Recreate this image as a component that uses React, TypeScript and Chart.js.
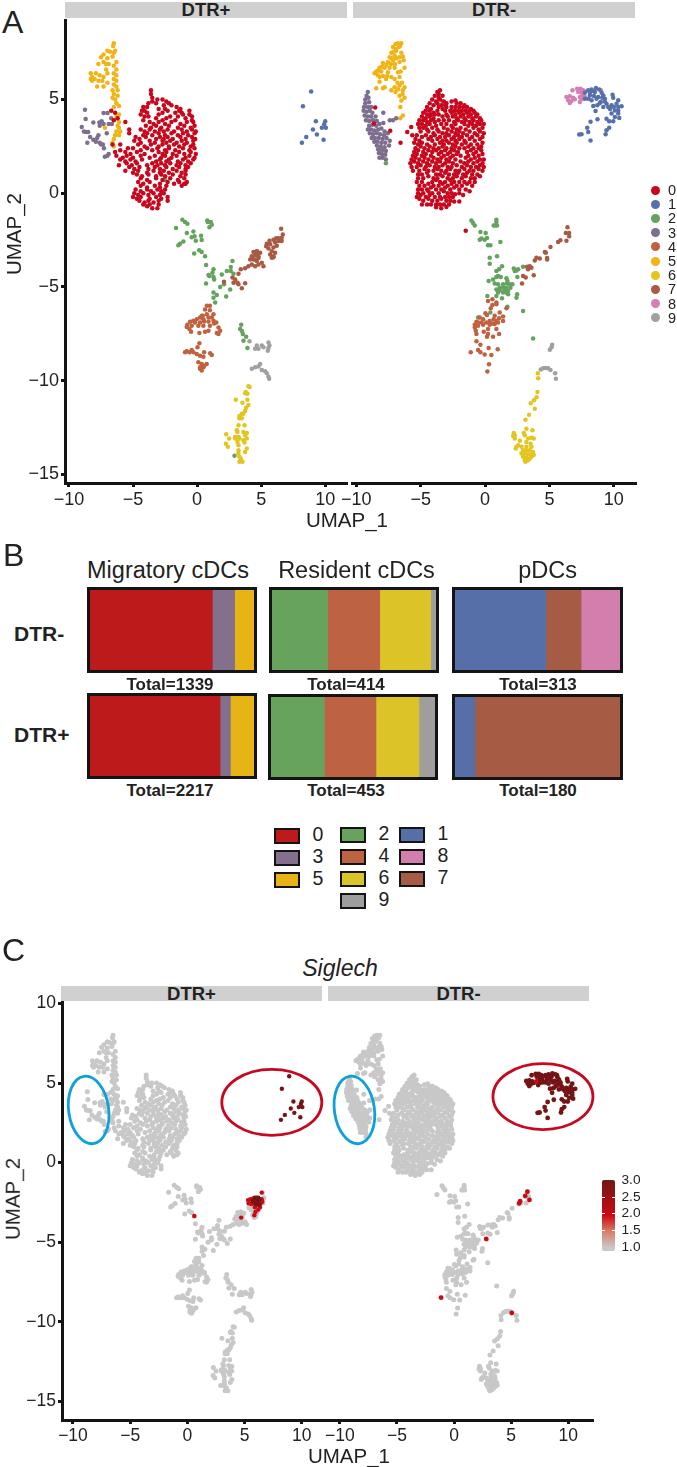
import React, { useEffect, useRef } from "react";
import { Chart, registerables } from "chart.js";
Chart.register(...registerables);

type P = [number, number];

// ---------- UMAP clusters, DTR+ ----------
const plus0: P[] = [[-3.6,5.5],[-3.6,5.3],[-3.5,5.1],[-3.5,4.9],[-3.1,5.0],[-2.7,5.0],[-2.4,4.9],[-3.8,4.8],[-3.2,4.8],[-2.6,4.7],[-2.2,4.8],[-2.0,4.7],[-4.2,4.6],[-3.9,4.6],[-3.0,4.5],[-2.5,4.5],[-1.6,4.6],[-1.3,4.5],[-4.3,4.4],[-4.1,4.4],[-3.9,4.3],[-2.7,4.3],[-2.3,4.4],[-1.7,4.3],[-1.4,4.4],[-1.2,4.3],[-0.6,4.4],[-4.4,4.2],[-4.1,4.1],[-3.8,4.1],[-3.0,4.2],[-2.1,4.1],[-1.5,4.1],[-1.1,4.2],[-0.6,4.2],[-0.4,4.1],[-4.2,3.9],[-3.2,4.0],[-2.7,3.9],[-2.4,4.0],[-1.7,3.9],[-0.9,4.0],[-0.4,3.9],[-0.3,3.8],[-5.6,3.8],[-3.7,3.8],[-3.4,3.7],[-3.0,3.8],[-2.5,3.7],[-2.0,3.8],[-1.3,3.7],[-0.8,3.8],[-0.2,3.6],[-4.0,3.6],[-3.6,3.5],[-3.2,3.6],[-2.8,3.5],[-2.2,3.6],[-1.5,3.5],[-1.0,3.6],[-0.5,3.5],[-5.3,3.4],[-4.4,3.4],[-4.1,3.3],[-3.7,3.4],[-3.3,3.3],[-2.9,3.4],[-2.6,3.3],[-2.3,3.4],[-1.8,3.3],[-1.2,3.4],[-0.8,3.3],[-0.4,3.4],[-0.1,3.3],[-5.3,3.2],[-4.2,3.1],[-3.9,3.2],[-3.5,3.1],[-3.0,3.2],[-2.5,3.1],[-2.0,3.2],[-1.5,3.1],[-1.1,3.2],[-0.7,3.1],[-0.2,3.2],[-4.8,3.0],[-4.5,2.9],[-4.0,3.0],[-3.2,2.9],[-2.9,3.0],[-2.6,2.9],[-2.3,3.0],[-1.9,2.9],[-1.3,3.0],[-0.9,2.9],[-0.4,3.0],[-0.15,2.9],[-4.9,2.8],[-4.4,2.7],[-3.7,2.8],[-3.3,2.7],[-2.7,2.8],[-2.4,2.7],[-2.1,2.8],[-1.6,2.7],[-1.2,2.8],[-0.8,2.7],[-0.3,2.8],[-4.6,2.6],[-4.1,2.5],[-3.6,2.6],[-3.0,2.5],[-2.7,2.6],[-2.2,2.5],[-1.8,2.6],[-1.4,2.5],[-1.0,2.6],[-0.5,2.5],[-0.3,2.6],[-5.4,2.4],[-5.0,2.4],[-4.4,2.3],[-3.9,2.4],[-3.5,2.3],[-3.1,2.4],[-2.5,2.3],[-2.2,2.4],[-1.7,2.3],[-1.1,2.4],[-0.6,2.3],[-0.2,2.4],[-6.4,2.2],[-6.0,2.3],[-5.6,2.2],[-5.2,2.1],[-4.7,2.2],[-4.1,2.1],[-3.0,2.2],[-2.7,2.1],[-2.4,2.2],[-1.9,2.1],[-1.4,2.2],[-1.0,2.1],[-0.5,2.2],[-0.1,2.1],[-6.3,2.0],[-5.8,1.9],[-5.5,2.0],[-5.0,1.9],[-4.4,2.0],[-3.7,1.9],[-3.3,2.0],[-2.8,1.9],[-2.5,2.0],[-2.0,1.9],[-1.6,2.0],[-0.9,1.9],[-0.6,2.0],[-0.2,1.9],[-6.0,1.8],[-5.6,1.7],[-5.2,1.8],[-4.8,1.7],[-4.3,1.8],[-3.2,1.7],[-2.9,1.8],[-2.4,1.7],[-2.2,1.8],[-1.5,1.7],[-1.1,1.8],[-0.7,1.7],[-0.3,1.8],[-6.1,1.5],[-5.5,1.6],[-5.1,1.5],[-4.7,1.6],[-3.9,1.5],[-3.5,1.6],[-3.1,1.5],[-2.8,1.6],[-2.5,1.5],[-2.1,1.6],[-1.6,1.5],[-1.3,1.6],[-0.9,1.5],[-0.5,1.6],[-5.3,1.4],[-4.9,1.3],[-4.5,1.4],[-3.8,1.3],[-3.3,1.4],[-2.9,1.3],[-2.4,1.4],[-1.9,1.3],[-1.4,1.4],[-0.9,1.3],[-0.7,1.4],[-5.6,1.2],[-5.0,1.1],[-4.6,1.2],[-3.9,1.1],[-3.4,1.2],[-2.9,1.1],[-2.6,1.2],[-2.2,1.1],[-1.6,1.2],[-1.2,1.1],[-0.9,1.2],[-4.7,1.0],[-4.3,0.9],[-3.8,1.0],[-3.2,0.9],[-2.8,1.0],[-2.5,0.9],[-1.9,1.0],[-1.3,0.9],[-0.9,1.0],[-4.4,0.8],[-3.9,0.7],[-3.2,0.8],[-2.7,0.7],[-2.1,0.8],[-1.5,0.7],[-1.0,0.8],[-4.6,0.6],[-4.2,0.5],[-3.7,0.6],[-2.9,0.5],[-2.3,0.6],[-1.8,0.5],[-1.4,0.6],[-1.0,0.5],[-0.8,0.6],[-4.4,0.4],[-3.9,0.3],[-3.3,0.4],[-2.9,0.3],[-2.4,0.4],[-1.2,0.4],[-0.9,0.5],[-4.8,0.2],[-4.4,0.1],[-3.9,0.2],[-3.6,0.1],[-3.1,0.2],[-2.8,0.1],[-2.5,0.2],[-4.9,0.0],[-4.6,-0.1],[-4.2,0.0],[-3.8,-0.1],[-3.4,0.0],[-2.9,-0.1],[-2.6,0.0],[-2.3,-0.2],[-5.0,-0.2],[-4.7,-0.3],[-4.4,-0.2],[-3.7,-0.3],[-3.2,-0.2],[-2.8,-0.3],[-4.5,-0.4],[-4.1,-0.5],[-3.8,-0.4],[-3.4,-0.5],[-3.0,-0.4],[-2.3,-0.4],[-4.2,-0.6],[-3.9,-0.7],[-3.7,-0.6],[-3.5,-0.8],[-3.0,-0.6],[-3.1,-0.8],[-6.0,2.6],[-6.6,2.6],[-6.7,4.4],[-6.4,4.3],[-6.2,4.0],[-6.5,3.9]];
const plus1: P[] = [[8.9,5.43],[8.26,4.64],[9.27,3.84],[9.04,3.4],[10.0,3.84],[9.92,3.68],[9.74,3.49],[10.05,3.49],[9.35,3.13],[8.52,3.0],[8.18,2.69],[9.87,2.85]];
const plus2: P[] = [[-1.15,-1.42],[-0.94,-1.54],[-0.76,-1.63],[-1.64,-1.86],[0.8,-1.45],[1.07,-1.54],[1.15,-1.68],[0.96,-1.82],[0.83,-1.54],[-0.8,-2.12],[-0.29,-2.04],[-0.2,-2.3],[-0.42,-2.35],[0.31,-2.27],[0.36,-2.5],[-0.1,-2.53],[-1.07,-2.57],[-1.46,-2.78],[-1.33,-2.7],[0.16,-3.04],[0.36,-3.13],[-0.23,-3.22],[0.62,-3.36],[0.7,-3.83],[1.28,-4.06],[1.2,-4.24],[0.96,-4.42],[1.28,-4.47],[0.89,-4.36],[1.33,-4.6],[0.7,-4.81],[1.93,-4.33],[2.32,-4.15],[2.63,-3.94],[2.76,-3.62],[2.63,-4.15],[2.84,-4.29],[2.1,-4.86],[1.8,-5.0],[2.58,-5.13],[1.28,-5.3],[1.54,-5.43],[1.28,-5.57],[1.41,-5.83],[2.27,-5.51],[0.36,-6.54],[-2.5,0.7],[3.44,-7.02],[3.36,-7.25],[3.5,-7.35],[3.57,-7.51],[3.83,-7.66],[3.62,-7.87],[3.93,-8.26],[2.92,-14.0]];
const plus3: P[] = [[-8.75,4.46],[-8.7,3.96],[-9.0,3.54],[-8.83,3.3],[-8.67,3.27],[-8.5,3.27],[-8.1,3.77],[-7.63,3.77],[-7.45,3.84],[-7.6,3.6],[-7.3,3.7],[-7.3,4.28],[-7.0,4.28],[-6.7,4.0],[-6.9,3.7],[-6.65,3.7],[-7.05,3.2],[-7.7,3.1],[-7.8,2.95],[-8.1,2.85],[-8.35,3.0],[-8.57,2.7],[-7.6,2.7],[-7.35,2.6],[-7.27,2.4],[-7.0,2.0],[-7.2,1.95],[-7.5,2.6],[-7.9,2.75],[-6.9,2.1]];
const plus4: P[] = [[0.76,-6.0],[1.0,-6.0],[0.62,-6.2],[1.0,-6.24],[1.28,-6.45],[0.44,-6.54],[0.76,-6.45],[0.23,-6.63],[0.49,-6.72],[0.89,-6.63],[1.15,-6.63],[-0.03,-6.72],[-0.29,-6.8],[-0.55,-6.86],[-0.76,-7.02],[-0.81,-7.13],[-0.6,-7.25],[-0.42,-7.07],[-0.16,-6.9],[0.23,-6.9],[0.55,-6.84],[0.89,-6.84],[1.28,-6.8],[1.33,-6.95],[1.5,-6.9],[1.0,-7.07],[0.49,-7.07],[0.1,-7.07],[0.89,-7.34],[0.62,-7.39],[0.18,-7.46],[1.67,-7.16],[1.8,-7.34],[1.54,-7.46],[1.67,-7.51],[-0.47,-7.39],[0.18,-8.0],[0.03,-8.22],[-0.42,-8.36],[-0.81,-8.43],[-0.94,-8.49],[-0.6,-8.49],[-0.29,-8.49],[-0.03,-8.58],[0.23,-8.67],[0.49,-8.72],[0.55,-8.49],[1.02,-8.54],[1.15,-8.63],[0.1,-9.02],[0.36,-9.11],[0.75,-9.11],[0.23,-9.28],[0.49,-9.28],[0.55,-9.2],[0.23,-9.37],[0.36,-9.46]];
const plus5: P[] = [[-6.5,8.0],[-6.55,7.85],[-6.4,7.6],[-6.8,7.55],[-7.0,7.6],[-7.3,7.4],[-6.5,7.5],[-6.6,7.3],[-7.0,7.2],[-7.5,7.25],[-7.3,7.0],[-7.7,6.9],[-7.1,6.9],[-6.9,6.9],[-6.3,7.0],[-7.1,6.6],[-7.0,6.4],[-6.5,6.8],[-6.3,6.6],[-6.5,6.4],[-6.3,6.3],[-7.3,6.2],[-8.3,6.4],[-8.2,6.2],[-7.9,6.4],[-7.6,6.3],[-8.0,6.1],[-7.7,6.0],[-7.4,6.0],[-8.3,6.1],[-8.2,6.0],[-7.0,5.9],[-6.5,6.1],[-6.3,6.0],[-6.5,5.8],[-6.3,5.7],[-6.2,5.5],[-7.8,5.7],[-7.3,5.7],[-6.6,5.5],[-6.5,5.3],[-6.2,5.2],[-6.6,5.1],[-6.4,5.0],[-6.3,4.8],[-6.5,4.6],[-6.1,4.65],[-6.3,4.1],[-6.1,4.2],[-6.2,3.6],[-6.1,3.5],[-6.3,3.3],[-6.0,3.3],[-6.4,3.1],[-6.1,3.1],[-6.5,2.9],[-6.6,2.7],[-6.5,2.5],[-7.2,3.5],[-6.1,3.8]];
const plus6: P[] = [[4.0,-10.3],[4.1,-10.34],[3.8,-10.6],[3.93,-10.7],[3.75,-10.67],[3.02,-11.02],[3.93,-11.02],[3.54,-11.18],[4.0,-11.3],[3.83,-11.45],[3.75,-11.62],[3.49,-11.76],[3.3,-11.89],[3.62,-11.76],[3.49,-12.0],[3.3,-12.0],[3.23,-12.38],[3.7,-12.38],[3.1,-12.65],[3.15,-12.74],[3.62,-12.74],[3.88,-12.79],[3.75,-12.91],[2.27,-12.86],[2.5,-13.09],[2.97,-13.0],[3.23,-13.0],[2.97,-13.09],[3.3,-13.09],[3.88,-13.09],[3.62,-13.18],[3.15,-13.27],[3.23,-13.44],[3.7,-13.3],[2.25,-13.36],[2.4,-13.53],[3.23,-13.71],[3.88,-13.62],[3.75,-13.8],[3.23,-13.89],[3.3,-14.06],[3.41,-14.15],[3.54,-14.33],[3.3,-14.33]];
const plus7: P[] = [[2.1,-4.72],[2.76,-4.5],[2.97,-4.6],[3.15,-4.77],[3.23,-4.86],[3.49,-5.07],[3.75,-4.8],[2.84,-4.77],[3.23,-4.3],[3.41,-4.06],[3.75,-4.0],[4.0,-3.89],[4.27,-3.8],[4.53,-3.89],[4.79,-3.8],[5.05,-3.71],[5.18,-3.89],[4.4,-3.53],[4.66,-3.62],[4.79,-3.36],[4.53,-3.3],[4.66,-3.09],[4.92,-3.18],[5.96,-3.36],[5.83,-3.44],[6.09,-3.18],[6.56,-1.89],[6.69,-2.2],[6.6,-2.37],[6.35,-2.4],[6.17,-2.4],[5.96,-2.48],[5.65,-2.53],[5.44,-2.7],[5.7,-2.72],[6.09,-2.63],[6.35,-2.55],[6.6,-2.55],[6.22,-2.8],[5.96,-2.9],[5.83,-3.09],[5.57,-2.95],[5.39,-2.83],[5.7,-3.27],[5.96,-3.41],[4.66,-3.1],[4.4,-3.13],[4.27,-3.36],[4.66,-3.27],[4.79,-3.45],[4.14,-3.53],[4.53,-3.53]];
const plus9: P[] = [[4.09,-7.9],[4.66,-8.13],[4.79,-8.3],[5.05,-8.13],[5.18,-8.22],[5.57,-7.96],[5.65,-8.13],[5.52,-8.4],[5.57,-8.26],[4.53,-8.3],[4.92,-9.11],[4.27,-9.37],[4.53,-9.28],[4.79,-9.25],[5.05,-9.43],[5.31,-9.5],[5.44,-9.6],[5.57,-9.78],[5.62,-9.9]];

// ---------- UMAP clusters, DTR- ----------
const minus0: P[] = [[-3.7,5.4],[-3.5,5.5],[-3.6,5.3],[-3.9,5.2],[-3.6,5.1],[-3.3,5.2],[-4.1,5.0],[-3.8,4.9],[-3.5,5.0],[-3.2,4.9],[-2.6,4.9],[-2.3,4.95],[-3.0,4.8],[-4.3,4.8],[-4.0,4.7],[-3.7,4.8],[-3.4,4.7],[-3.1,4.7],[-2.2,4.8],[-1.9,4.8],[-1.6,4.7],[-4.5,4.6],[-4.2,4.5],[-3.6,4.6],[-3.3,4.5],[-3.0,4.6],[-2.6,4.6],[-2.3,4.6],[-2.0,4.6],[-1.7,4.6],[-1.4,4.6],[-1.1,4.5],[-4.6,4.4],[-4.3,4.4],[-4.0,4.3],[-3.7,4.4],[-3.1,4.4],[-2.7,4.4],[-2.4,4.4],[-2.1,4.4],[-1.8,4.4],[-1.5,4.4],[-1.2,4.4],[-0.9,4.4],[-4.8,4.3],[-4.5,4.2],[-4.2,4.2],[-3.9,4.2],[-3.6,4.2],[-3.0,4.2],[-2.6,4.3],[-2.3,4.2],[-2.0,4.3],[-1.7,4.2],[-1.4,4.3],[-1.1,4.2],[-0.8,4.3],[-0.6,4.2],[-4.9,4.1],[-4.6,4.0],[-4.3,4.1],[-4.0,4.0],[-3.3,4.1],[-2.9,4.1],[-2.5,4.1],[-2.2,4.0],[-1.9,4.1],[-1.6,4.0],[-1.3,4.1],[-1.0,4.0],[-0.7,4.1],[-0.4,4.0],[-5.1,3.9],[-4.8,3.9],[-4.5,3.8],[-4.2,3.9],[-3.9,3.8],[-3.6,3.9],[-3.2,3.9],[-2.8,3.9],[-2.4,3.8],[-2.1,3.9],[-1.8,3.8],[-1.5,3.9],[-1.2,3.8],[-0.9,3.9],[-0.6,3.8],[-0.3,3.9],[-5.2,3.7],[-4.9,3.7],[-4.6,3.6],[-4.3,3.7],[-3.8,3.6],[-3.4,3.7],[-3.0,3.7],[-2.6,3.6],[-2.3,3.7],[-1.6,3.7],[-1.3,3.6],[-1.0,3.7],[-0.7,3.6],[-0.4,3.7],[-0.1,3.7],[-5.1,3.5],[-4.8,3.5],[-4.5,3.4],[-4.1,3.5],[-3.7,3.4],[-3.2,3.5],[-2.9,3.4],[-2.5,3.5],[-2.2,3.4],[-1.9,3.5],[-1.5,3.4],[-0.9,3.5],[-0.5,3.4],[-0.2,3.5],[-5.0,3.3],[-4.4,3.3],[-4.0,3.2],[-3.6,3.3],[-3.3,3.2],[-3.0,3.2],[-2.6,3.3],[-2.3,3.2],[-2.0,3.3],[-1.7,3.2],[-1.2,3.3],[-0.8,3.2],[-0.4,3.3],[-0.1,3.2],[-5.3,3.1],[-4.9,3.0],[-4.6,3.1],[-4.2,3.0],[-3.9,3.1],[-3.5,3.0],[-3.1,3.0],[-2.8,3.1],[-2.4,3.0],[-2.1,3.1],[-1.8,3.0],[-1.4,3.1],[-1.0,3.0],[-0.6,3.1],[-0.2,3.0],[-5.4,2.9],[-5.1,2.8],[-4.4,2.9],[-4.1,2.8],[-3.7,2.9],[-3.3,2.8],[-3.0,2.8],[-2.6,2.9],[-2.3,2.8],[-2.0,2.9],[-1.6,2.8],[-1.2,2.9],[-0.8,2.8],[-0.4,2.9],[-0.2,2.7],[-5.5,2.7],[-5.2,2.6],[-4.9,2.7],[-4.5,2.6],[-3.9,2.6],[-3.5,2.7],[-3.2,2.6],[-2.8,2.7],[-2.5,2.6],[-2.2,2.7],[-1.8,2.6],[-1.5,2.7],[-1.1,2.6],[-0.6,2.6],[-0.3,2.5],[-5.4,2.4],[-5.0,2.5],[-4.7,2.4],[-4.3,2.5],[-4.0,2.4],[-3.6,2.4],[-3.3,2.5],[-3.0,2.4],[-2.6,2.4],[-2.3,2.5],[-2.0,2.4],[-1.6,2.4],[-1.3,2.5],[-0.9,2.4],[-0.5,2.4],[-5.5,2.2],[-5.2,2.3],[-4.8,2.2],[-4.4,2.3],[-4.1,2.2],[-3.8,2.3],[-3.4,2.2],[-3.1,2.3],[-2.7,2.2],[-2.4,2.3],[-2.1,2.2],[-1.4,2.2],[-1.1,2.3],[-0.7,2.2],[-0.3,2.3],[-5.6,2.0],[-5.3,2.1],[-4.9,2.0],[-4.6,2.1],[-4.2,2.0],[-3.6,2.1],[-3.2,2.0],[-2.9,2.1],[-2.5,2.0],[-2.2,2.1],[-1.9,2.0],[-1.3,2.0],[-0.9,2.1],[-0.5,2.0],[-0.2,2.1],[-5.7,1.8],[-5.4,1.9],[-5.1,1.8],[-4.7,1.9],[-4.4,1.8],[-4.0,1.9],[-3.7,1.8],[-3.4,1.9],[-3.0,1.8],[-2.7,1.9],[-2.3,1.8],[-1.5,1.9],[-1.1,1.8],[-0.8,1.9],[-0.4,1.8],[-0.1,1.8],[-5.8,1.6],[-5.5,1.7],[-5.2,1.6],[-4.8,1.7],[-4.5,1.6],[-4.1,1.7],[-3.8,1.6],[-3.5,1.7],[-3.1,1.6],[-2.8,1.7],[-2.5,1.6],[-1.9,1.7],[-1.6,1.6],[-1.3,1.7],[-0.9,1.6],[-0.6,1.7],[-0.2,1.6],[-5.7,1.4],[-5.3,1.4],[-5.0,1.5],[-4.6,1.4],[-4.3,1.5],[-3.9,1.4],[-3.6,1.4],[-3.3,1.5],[-2.9,1.4],[-2.6,1.4],[-2.2,1.5],[-1.8,1.4],[-1.4,1.5],[-1.1,1.4],[-0.7,1.4],[-0.4,1.5],[-0.1,1.4],[-5.6,1.2],[-5.1,1.2],[-4.7,1.3],[-4.4,1.2],[-4.0,1.2],[-3.7,1.3],[-3.4,1.2],[-3.0,1.2],[-2.7,1.3],[-2.3,1.2],[-2.0,1.2],[-1.6,1.3],[-1.2,1.2],[-0.9,1.2],[-0.5,1.3],[-0.2,1.2],[-5.2,1.0],[-4.9,1.0],[-4.5,1.1],[-3.8,1.0],[-3.5,1.0],[-3.1,1.1],[-2.8,1.0],[-2.4,1.0],[-2.1,1.1],[-1.7,1.0],[-1.4,1.1],[-1.0,1.0],[-0.6,1.0],[-0.4,0.9],[-5.2,0.8],[-4.8,0.8],[-4.4,0.9],[-4.0,0.8],[-3.7,0.8],[-3.3,0.9],[-2.9,0.8],[-2.5,0.8],[-2.2,0.9],[-1.8,0.8],[-1.5,0.9],[-1.1,0.8],[-0.8,0.8],[-5.3,0.6],[-4.9,0.6],[-4.1,0.6],[-3.8,0.7],[-3.5,0.6],[-3.1,0.6],[-2.7,0.7],[-2.4,0.6],[-2.0,0.6],[-1.6,0.6],[-1.2,0.6],[-0.8,0.6],[-5.1,0.4],[-4.7,0.4],[-4.4,0.5],[-4.0,0.4],[-3.6,0.4],[-3.3,0.5],[-2.9,0.4],[-2.6,0.5],[-2.2,0.4],[-1.8,0.4],[-1.4,0.5],[-1.0,0.4],[-5.2,0.2],[-4.9,0.2],[-4.5,0.2],[-4.2,0.3],[-3.8,0.2],[-3.4,0.2],[-3.1,0.3],[-2.7,0.2],[-2.4,0.3],[-2.0,0.2],[-1.5,0.2],[-1.2,0.1],[-5.2,0.0],[-4.8,0.0],[-4.4,0.1],[-4.1,0.0],[-3.6,0.0],[-3.2,0.1],[-2.9,0.0],[-2.6,0.0],[-2.0,0.0],[-1.7,-0.1],[-5.3,-0.2],[-5.0,-0.1],[-4.6,-0.2],[-4.3,-0.1],[-3.9,-0.2],[-3.5,-0.2],[-3.1,-0.2],[-2.8,-0.2],[-2.5,-0.2],[-2.33,-0.05],[-5.1,-0.3],[-4.8,-0.4],[-4.4,-0.3],[-4.1,-0.4],[-3.7,-0.4],[-3.4,-0.3],[-3.0,-0.4],[-2.7,-0.4],[-2.4,-0.44],[-2.0,-0.44],[-4.9,-0.6],[-4.5,-0.6],[-4.2,-0.6],[-3.8,-0.6],[-3.5,-0.6],[-3.2,-0.6],[-2.8,-0.6],[-3.8,-0.75],[-3.4,-0.8],[-3.0,-0.74],[-6.04,3.27],[-5.73,3.54],[-5.65,3.1],[-6.56,2.7],[-7.36,3.33],[-8.53,4.57],[-8.63,3.72],[-1.5,-2.0]];
const minus1: P[] = [[8.01,5.49],[8.27,5.54],[8.61,5.61],[8.86,5.54],[7.75,5.36],[8.14,5.36],[8.53,5.4],[9.05,5.36],[9.18,5.22],[8.14,5.22],[8.45,5.19],[8.79,5.13],[8.01,5.04],[7.75,5.04],[8.27,4.96],[8.66,5.04],[9.31,5.04],[9.9,5.26],[9.95,5.1],[10.34,4.96],[8.99,4.87],[9.43,4.78],[9.18,4.6],[9.56,4.6],[9.82,4.69],[10.21,4.78],[10.6,4.64],[10.34,4.6],[8.4,4.65],[8.71,4.69],[8.58,4.39],[10.08,4.42],[10.34,4.42],[9.82,4.25],[10.08,4.07],[10.42,4.02],[9.43,3.98],[9.64,3.84],[9.95,3.84],[8.73,3.95],[8.19,3.81],[7.93,3.49],[8.01,3.27],[7.31,3.13],[7.49,3.15],[8.19,2.81],[9.64,3.49],[9.43,3.36],[9.36,3.15],[10.34,4.25],[9.3,4.9],[8.9,4.8],[9.7,4.5],[10.0,4.6],[9.1,5.1],[8.4,5.45]];
const minus2: P[] = [[-1.06,-1.45],[-0.93,-1.59],[-0.8,-1.72],[0.88,-1.42],[0.88,-1.54],[0.75,-1.72],[0.93,-1.72],[0.67,-1.72],[-0.36,-2.07],[-0.41,-2.48],[0.05,-2.12],[-0.28,-2.42],[-0.03,-2.48],[0.15,-2.39],[0.23,-2.78],[0.41,-2.78],[1.19,-2.6],[0.36,-3.44],[0.93,-3.36],[0.36,-3.76],[0.88,-4.15],[1.09,-4.06],[1.32,-3.89],[2.23,-4.01],[2.44,-4.12],[2.31,-4.15],[2.57,-4.06],[2.95,-3.92],[2.51,-4.47],[0.28,-4.68],[0.62,-4.6],[1.01,-4.42],[1.22,-4.47],[0.88,-4.47],[1.66,-4.54],[1.74,-4.68],[1.71,-4.82],[0.75,-4.81],[1.01,-4.86],[1.4,-4.86],[1.92,-4.86],[2.12,-4.86],[1.14,-5.04],[1.4,-5.04],[1.66,-5.04],[1.97,-5.04],[0.88,-5.13],[1.14,-5.18],[1.53,-5.21],[1.79,-5.21],[1.01,-5.3],[1.4,-5.3],[0.88,-5.48],[1.32,-5.6],[1.79,-5.39],[1.66,-5.3],[2.49,-5.39],[2.44,-5.57],[0.18,-5.48],[1.74,-6.06],[2.95,-6.28],[0.41,-6.36],[-0.54,-6.63],[3.73,-7.75],[-3.3,4.9],[-3.4,2.2],[-7.7,1.6]];
const minus3: P[] = [[-9.1,5.4],[-9.2,5.2],[-9.3,5.0],[-9.05,5.1],[-9.3,4.8],[-9.0,4.85],[-9.4,4.6],[-9.1,4.6],[-8.85,4.6],[-9.43,4.4],[-9.2,4.35],[-8.95,4.4],[-8.75,4.3],[-9.35,4.15],[-9.1,4.1],[-8.85,4.1],[-8.5,4.1],[-7.9,4.3],[-9.25,3.9],[-9.0,3.85],[-8.7,3.9],[-8.4,3.85],[-7.9,3.75],[-7.4,3.9],[-6.9,4.0],[-7.15,3.9],[-9.0,3.6],[-8.75,3.65],[-8.45,3.6],[-8.2,3.7],[-9.1,3.4],[-8.85,3.4],[-8.6,3.35],[-8.3,3.4],[-8.05,3.45],[-7.8,3.3],[-8.95,3.2],[-8.7,3.15],[-8.4,3.2],[-8.15,3.15],[-7.85,3.1],[-7.55,3.2],[-8.8,2.95],[-8.55,2.95],[-8.25,2.95],[-7.95,2.9],[-7.65,2.95],[-8.6,2.75],[-8.35,2.75],[-8.05,2.7],[-7.75,2.7],[-7.4,2.8],[-8.4,2.55],[-8.1,2.5],[-7.8,2.45],[-7.45,2.55],[-8.3,2.35],[-8.0,2.3],[-7.7,2.25],[-8.25,2.15],[-8.0,2.1],[-7.75,2.05],[-8.2,1.9],[-7.95,1.9],[-7.7,1.8]];
const minus4: P[] = [[0.57,-5.66],[0.23,-5.75],[0.88,-5.83],[0.57,-5.96],[0.88,-5.92],[0.44,-6.13],[1.66,-6.13],[1.14,-6.36],[0.03,-6.4],[0.15,-6.49],[0.75,-6.54],[1.4,-6.58],[1.09,-6.67],[-0.41,-6.63],[-0.67,-6.86],[-0.8,-7.02],[-0.54,-6.9],[-0.15,-6.72],[0.1,-6.9],[0.36,-6.81],[0.67,-6.72],[0.88,-6.81],[1.01,-6.9],[1.4,-6.81],[-0.28,-6.9],[-0.8,-7.16],[-0.54,-7.07],[-0.15,-7.02],[0.57,-6.95],[0.75,-6.98],[0.36,-7.02],[-0.72,-7.34],[-0.67,-7.51],[-0.1,-7.39],[0.23,-7.25],[0.23,-7.51],[0.15,-7.66],[0.62,-7.66],[1.09,-7.51],[0.88,-7.25],[-0.67,-7.9],[-0.36,-8.08],[0.28,-8.26],[0.98,-8.33],[-0.54,-8.36],[-1.11,-8.49],[-0.36,-8.49],[-0.03,-8.61],[0.49,-8.63],[0.31,-9.12],[0.18,-9.51]];
const minus5: P[] = [[-6.5,8.0],[-6.76,8.0],[-6.95,7.96],[-6.6,7.85],[-7.15,7.8],[-6.69,7.8],[-6.9,7.7],[-7.28,7.5],[-6.9,7.6],[-6.5,7.5],[-7.1,7.55],[-6.38,7.3],[-7.41,7.25],[-7.02,7.35],[-6.64,7.25],[-6.32,7.1],[-7.54,7.0],[-7.15,7.1],[-6.64,7.0],[-6.9,7.2],[-7.93,6.95],[-8.19,6.7],[-8.45,6.5],[-8.58,6.4],[-8.32,6.3],[-8.06,6.5],[-7.8,6.7],[-7.41,6.7],[-7.02,6.7],[-6.25,6.7],[-7.54,6.45],[-8.19,6.2],[-7.93,6.25],[-7.28,6.2],[-6.76,6.45],[-6.64,6.2],[-8.19,5.95],[-7.68,6.1],[-7.02,6.1],[-6.25,5.65],[-6.64,5.75],[-7.02,5.65],[-7.28,5.5],[-6.76,5.55],[-6.38,5.5],[-6.64,5.2],[-6.25,5.1],[-6.5,4.95],[-6.58,4.6],[-6.38,4.15],[-6.58,4.0],[-7.8,5.65],[-8.45,5.6],[-7.93,5.6],[-7.0,6.9],[-7.3,6.9],[-7.65,6.85],[-8.0,6.75],[-7.6,6.25],[-6.95,5.4],[-6.8,5.9],[-6.4,5.3],[-6.55,6.5],[-6.45,5.9],[-7.25,7.2],[-8.3,6.55]];
const minus6: P[] = [[4.1,-9.6],[4.12,-9.87],[4.07,-10.61],[4.0,-10.88],[3.8,-11.05],[3.55,-11.2],[3.86,-11.5],[3.42,-11.82],[3.14,-12.08],[3.21,-12.56],[3.68,-12.65],[2.23,-12.79],[2.31,-12.91],[2.18,-12.95],[2.31,-13.09],[3.01,-12.79],[3.08,-12.91],[3.6,-13.05],[3.34,-13.09],[3.78,-13.09],[2.7,-13.21],[3.21,-13.27],[3.53,-13.36],[2.44,-13.53],[2.57,-13.44],[2.38,-13.62],[2.83,-13.53],[3.21,-13.53],[3.6,-13.53],[2.95,-13.71],[3.21,-13.71],[3.47,-13.71],[3.73,-13.8],[2.83,-13.89],[3.08,-13.89],[3.34,-13.92],[3.6,-13.92],[3.78,-13.97],[2.95,-14.06],[3.21,-14.1],[3.47,-14.15],[3.08,-14.24],[3.14,-14.33],[3.6,-14.06],[3.34,-14.24]];
const minus7: P[] = [[6.4,-1.82],[6.27,-2.12],[6.53,-2.12],[6.53,-2.3],[6.32,-2.53],[5.85,-2.51],[5.67,-2.6],[5.08,-2.87],[4.64,-3.13],[4.82,-3.45],[4.72,-3.18],[4.82,-3.53],[4.25,-3.48],[3.99,-3.44],[3.86,-3.59],[3.47,-3.89],[3.26,-3.92],[3.6,-3.97],[3.34,-4.06],[3.78,-4.38],[2.95,-4.42],[3.16,-4.5],[2.87,-4.81]];
const minus8: P[] = [[6.79,5.49],[7.15,5.58],[7.41,5.58],[7.62,5.49],[7.23,5.4],[7.49,5.36],[7.75,5.43],[6.32,5.13],[6.58,5.17],[6.84,5.1],[6.97,5.01],[6.71,4.92],[6.45,4.96],[6.58,4.81],[7.36,5.13],[7.57,5.22],[7.75,5.13],[7.49,5.01],[7.36,4.87],[9.0,5.49]];
const minus9: P[] = [[5.21,-8.08],[5.16,-8.22],[5.03,-8.35],[4.33,-9.41],[4.51,-9.34],[4.72,-9.32],[4.9,-9.34],[5.08,-9.43],[5.44,-9.6],[5.5,-9.9]];

// ---------- Siglech expression highlights ----------
const sigPlusRed: P[] = [[5.3,-2.35],[5.35,-2.55],[5.5,-2.3],[5.6,-2.6],[5.75,-2.25],[5.8,-2.5],[5.9,-2.8],[6.0,-2.35],[6.1,-2.65],[6.2,-2.95],[6.25,-2.45],[6.4,-2.55],[6.5,-2.3],[6.55,-2.45],[6.35,-2.8],[5.95,-3.1],[5.85,-3.3],[6.5,-1.88],[0.6,-3.35],[4.7,-3.45]];
const sigPlusDark: P[] = [[5.9,-2.2],[6.05,-2.2],[6.2,-2.2],[6.1,-2.45],[5.7,-2.4],[6.3,-2.65],[5.95,-2.6],[6.3,-2.3]];
const sigMinusRed: P[] = [[6.42,-1.82],[6.23,-2.09],[6.6,-2.34],[5.7,-2.55],[5.78,-2.42],[2.81,-4.79],[-1.14,-8.47],[5.05,-9.44],[7.2,5.1]];

// ---------- axes ----------
const umapXTicks = [-10, -5, 0, 5, 10];
const umapYTicksA = [-15, -10, -5, 0, 5];
const umapYTicksC = [-15, -10, -5, 0, 5, 10];
const clusterIds = ["0", "1", "2", "3", "4", "5", "6", "7", "8", "9"];
const dotColors = ["#c8061c", "#5570ad", "#64a35d", "#7e6e8e", "#c0613f", "#f0b416", "#e3c51f", "#a85a42", "#d57fb5", "#a0a0a0"];
const barColors = ["#bd1a1c", "#566fa8", "#68a35e", "#82708c", "#bd6344", "#e6b414", "#dcc428", "#a65c44", "#d27fae", "#9e9e9c"];
const GREY = "#c8c8c8", RED = "#cc0a14", DARK = "#751414";

// ---------- composition bars: cluster ids and % ----------
const migratoryIds = [0, 3, 5];
const residentIds = [2, 4, 6, 9];
const pdcIds = [1, 7, 8];
const migratoryMinus = [74.6, 13.6, 11.8];
const migratoryPlus = [79.3, 6.3, 14.4];
const residentMinus = [33.9, 31.8, 31.0, 3.3];
const residentPlus = [32.5, 31.5, 26.2, 9.8];
const pdcMinus = [55.1, 21.3, 23.6];
const pdcPlus = [12.1, 87.9, 0];
const legendColumns = [[0, 3, 5], [2, 4, 6, 9], [1, 8, 7]];
const colorbarLabels = ["3.0", "2.5", "2.0", "1.5", "1.0"];

const minusSign = (v: number) => String(v).replace("-", "\u2212");
const tickSet = (vals: number[]) => (s: any) => { s.ticks = vals.map((value) => ({ value })); };

type Series = { pts: P[]; color: string; r: number };
type Ring = { cx: number; cy: number; rx: number; ry: number; rot: number; color: string };

function Umap(props: { left: number; top: number; w: number; h: number; pad: number; padTop?: number; xr: number[]; yr: number[]; yTicks?: number[]; fs: number; series: Series[]; rings?: Ring[] }) {
  const ref = useRef<HTMLCanvasElement>(null);
  useEffect(() => {
    const { pad, padTop, xr, yr, yTicks, fs, series, rings } = props;
    const font = { family: "'Liberation Sans'", size: fs };
    const ringPlugin = {
      id: "rings",
      afterDatasetsDraw(c: any) {
        const ctx = c.ctx;
        (rings || []).forEach((r) => {
          ctx.save();
          ctx.strokeStyle = r.color;
          ctx.lineWidth = 2.8;
          ctx.beginPath();
          ctx.ellipse(c.scales.x.getPixelForValue(r.cx), c.scales.y.getPixelForValue(r.cy), r.rx, r.ry, r.rot, 0, Math.PI * 2);
          ctx.stroke();
          ctx.restore();
        });
      },
    };
    const axisGrid = { display: true, drawOnChartArea: false, drawTicks: true, tickLength: 4, tickWidth: 3, tickColor: "#141414" };
    const chart = new Chart(ref.current as any, {
      type: "scatter",
      data: {
        datasets: series.map((s, i) => ({
          data: s.pts.map(([x, y]) => ({ x, y })),
          backgroundColor: s.color,
          pointRadius: s.r,
          pointBorderWidth: 0,
          pointHoverRadius: s.r,
          order: series.length - i,
        })),
      },
      options: {
        animation: false,
        responsive: false,
        layout: { padding: { left: yTicks ? 0 : pad, right: 14, top: padTop || 0, bottom: 0 } },
        plugins: { legend: { display: false }, tooltip: { enabled: false } },
        scales: {
          x: {
            type: "linear", min: xr[0], max: xr[1],
            afterBuildTicks: tickSet(umapXTicks),
            afterFit: (s: any) => { s.height = 40; s.paddingLeft = 0; s.paddingRight = 0; },
            grid: axisGrid,
            border: { display: true, width: 3, color: "#141414" },
            ticks: { font, color: "#222", padding: 2, maxRotation: 0, autoSkip: false, callback: minusSign },
          },
          y: yTicks
            ? {
                type: "linear", min: yr[0], max: yr[1],
                afterBuildTicks: tickSet(yTicks),
                afterFit: (s: any) => { s.width = pad; s.paddingTop = 0; s.paddingBottom = 0; },
                grid: axisGrid,
                border: { display: true, width: 3, color: "#141414" },
                ticks: { font, color: "#222", padding: 2, autoSkip: false, callback: minusSign },
              }
            : { type: "linear", min: yr[0], max: yr[1], display: false },
        },
      } as any,
      plugins: [ringPlugin] as any,
    });
    return () => chart.destroy();
  }, []);
  return <canvas ref={ref} width={props.w} height={props.h} style={{ position: "absolute", left: props.left, top: props.top, width: props.w, height: props.h }} />;
}

function StackBar(props: { left: number; top: number; w: number; h: number; ids: number[]; values: number[] }) {
  const ref = useRef<HTMLCanvasElement>(null);
  useEffect(() => {
    const frame = {
      id: "frame",
      afterDraw(c: any) {
        const a = c.chartArea, ctx = c.ctx;
        ctx.save();
        ctx.strokeStyle = "#141414";
        ctx.lineWidth = 3;
        ctx.strokeRect(a.left - 1.5, a.top - 1.5, a.right - a.left + 3, a.bottom - a.top + 3);
        ctx.restore();
      },
    };
    const chart = new Chart(ref.current as any, {
      type: "bar",
      data: {
        labels: [""],
        datasets: props.ids.map((id, i) => ({ label: clusterIds[id], data: [props.values[i]], backgroundColor: barColors[id], barPercentage: 1, categoryPercentage: 1, borderWidth: 0 })),
      },
      options: {
        indexAxis: "y",
        animation: false,
        responsive: false,
        layout: { padding: 3 },
        plugins: { legend: { display: false }, tooltip: { enabled: false } },
        scales: { x: { stacked: true, min: 0, max: 100, display: false }, y: { stacked: true, display: false } },
      } as any,
      plugins: [frame] as any,
    });
    return () => chart.destroy();
  }, []);
  return <canvas ref={ref} width={props.w} height={props.h} style={{ position: "absolute", left: props.left, top: props.top, width: props.w, height: props.h }} />;
}

function T(p: { x: number; y: number; s: number; c?: boolean; b?: boolean; i?: boolean; rot?: boolean; color?: string; children: any }) {
  const tx = `translate(${p.c ? "-50%" : "0"},-50%)${p.rot ? " rotate(-90deg)" : ""}`;
  return (
    <div style={{ position: "absolute", left: p.x, top: p.y, transform: tx, fontFamily: "'Liberation Sans'", fontSize: p.s, fontWeight: p.b ? 700 : 400, fontStyle: p.i ? "italic" : "normal", color: p.color || "#222", whiteSpace: "nowrap", lineHeight: 1 }}>
      {p.children}
    </div>
  );
}

function Strip(p: { x: number; y: number; w: number; h: number; label: string }) {
  return (
    <div style={{ position: "absolute", left: p.x, top: p.y, width: p.w, height: p.h, background: "#d0d0d0", textAlign: "center", lineHeight: `${p.h}px`, fontFamily: "'Liberation Sans'", fontWeight: 700, fontSize: 18.5, color: "#222" }}>
      {p.label}
    </div>
  );
}

const box = (x: number, y: number, w: number, h: number, bg: string) => ({ position: "absolute" as const, left: x, top: y, width: w, height: h, background: bg });

export default function App() {
  const dots = (ps: P[][], ids: number[]): Series[] => ps.map((pts, i) => ({ pts, color: dotColors[ids[i]], r: 2.25 }));
  const aPlus = dots([plus3, plus5, plus2, plus0, plus1, plus4, plus7, plus9, plus6], [3, 5, 2, 0, 1, 4, 7, 9, 6]);
  const aMinus = dots([minus5, minus3, minus2, minus0, minus8, minus1, minus4, minus7, minus9, minus6], [5, 3, 2, 0, 8, 1, 4, 7, 9, 6]);
  const greyPlus = [...plus3, ...plus5, ...plus0, ...plus2, ...plus4, ...plus7, ...plus9, ...plus6];
  const greyMinus = [...minus5, ...minus3, ...minus0, ...minus4, ...minus7, ...minus2, ...minus9, ...minus6];
  const cPlus: Series[] = [
    { pts: greyPlus, color: GREY, r: 2.5 },
    { pts: sigPlusRed, color: RED, r: 2.2 },
    { pts: sigPlusDark, color: DARK, r: 2.2 },
    { pts: plus1, color: DARK, r: 2.2 },
  ];
  const cMinus: Series[] = [
    { pts: greyMinus, color: GREY, r: 2.5 },
    { pts: minus8, color: DARK, r: 2.4 },
    { pts: minus1, color: DARK, r: 2.4 },
    { pts: sigMinusRed, color: RED, r: 2.4 },
  ];
  const ringsPlus: Ring[] = [
    { cx: -8.63, cy: 3.31, rx: 20, ry: 34, rot: -0.14, color: "#0ea0dc" },
    { cx: 7.38, cy: 3.79, rx: 50, ry: 33, rot: 0, color: "#c8081e" },
  ];
  const ringsMinus: Ring[] = [
    { cx: -8.72, cy: 3.31, rx: 20, ry: 34, rot: -0.14, color: "#0ea0dc" },
    { cx: 7.78, cy: 4.15, rx: 50, ry: 33, rot: 0, color: "#c8081e" },
  ];

  const columnTops = [827, 849, 871, 893];
  const legendX = [274, 340, 399];
  const legendShift = [1, 0, 0];

  return (
    <div style={{ position: "absolute", left: 0, top: 0, width: 677, height: 1467, background: "#fff", overflow: "hidden" }}>
      {/* Panel A */}
      <T x={2} y={22} s={32}>A</T>
      <Strip x={65} y={2} w={282} h={16} label="DTR+" />
      <Strip x={353} y={2} w={282} h={16} label="DTR-" />
      <Umap left={5} top={18} w={356} h={505} pad={60} xr={[-10.31, 11.7]} yr={[-15.46, 9.23]} yTicks={umapYTicksA} fs={18} series={aPlus} />
      <Umap left={332} top={18} w={318} h={505} pad={20} xr={[-10.33, 11.72]} yr={[-15.46, 9.23]} fs={18} series={aMinus} />
      <T x={14} y={234} s={20.5} c rot>UMAP_2</T>
      <T x={347} y={520} s={20.5} c>UMAP_1</T>
      {clusterIds.map((id, i) => (
        <React.Fragment key={id}>
          <div style={{ ...box(650.5, 185.5 + i * 14.2, 9, 9, dotColors[i]), borderRadius: "50%" }} />
          <T x={668} y={190 + i * 14.2} s={14.5}>{id}</T>
        </React.Fragment>
      ))}

      {/* Panel B */}
      <T x={3} y={555} s={32}>B</T>
      <T x={168} y={571} s={23.5} c>Migratory cDCs</T>
      <T x={356.5} y={571} s={23.5} c>Resident cDCs</T>
      <T x={547.7} y={571} s={23.5} c>pDCs</T>
      <T x={14} y={633} s={21} b>DTR-</T>
      <T x={14} y={734} s={21} b>DTR+</T>
      <StackBar left={87} top={587} w={170} h={86} ids={migratoryIds} values={migratoryMinus} />
      <StackBar left={269} top={587} w={170} h={86} ids={residentIds} values={residentMinus} />
      <StackBar left={452} top={587} w={171} h={86} ids={pdcIds} values={pdcMinus} />
      <StackBar left={87} top={693} w={170} h={86} ids={migratoryIds} values={migratoryPlus} />
      <StackBar left={268} top={694} w={170} h={86} ids={residentIds} values={residentPlus} />
      <StackBar left={452} top={694} w={171} h={86} ids={pdcIds} values={pdcPlus} />
      <T x={170} y={684} s={17} b c>Total=1339</T>
      <T x={346} y={684} s={17} b c>Total=414</T>
      <T x={538} y={684} s={17} b c>Total=313</T>
      <T x={170} y={790} s={17} b c>Total=2217</T>
      <T x={346} y={790} s={17} b c>Total=453</T>
      <T x={538} y={790} s={17} b c>Total=180</T>
      {legendColumns.map((col, ci) =>
        col.map((id, ri) => (
          <React.Fragment key={id}>
            <div style={{ ...box(legendX[ci], columnTops[ri] + legendShift[ci], 26, 16, barColors[id]), border: "2.5px solid #141414", boxSizing: "border-box" }} />
            <T x={legendX[ci] + 44} y={columnTops[ri] + 7 + legendShift[ci]} s={19.5} c>{clusterIds[id]}</T>
          </React.Fragment>
        ))
      )}

      {/* Panel C */}
      <T x={2} y={950} s={32}>C</T>
      <T x={340} y={968} s={23} c i>Siglech</T>
      <Strip x={61} y={986} w={261} h={15} label="DTR+" />
      <Strip x={328} y={986} w={261} h={15} label="DTR-" />
      <Umap left={2} top={985} w={337} h={475} pad={60} padTop={17} xr={[-10.96, 12.03]} yr={[-16.16, 10.09]} yTicks={umapYTicksC} fs={17.5} series={cPlus} rings={ringsPlus} />
      <Umap left={307} top={985} w={300} h={475} pad={20} padTop={17} xr={[-11.12, 12.16]} yr={[-16.16, 10.09]} fs={17.5} series={cMinus} rings={ringsMinus} />
      <T x={13} y={1199} s={20.5} c rot>UMAP_2</T>
      <T x={349} y={1456} s={20.5} c>UMAP_1</T>
      <div style={{ ...box(602, 1180, 13, 71, "linear-gradient(to top, #c8c8c8 0%, #c8c8c8 5%, #d87b66 28%, #cc0a14 50%, #a80f14 70%, #6f1a16 100%)"), borderRadius: 2 }} />
      {colorbarLabels.map((label, i) => (
        <React.Fragment key={label}>
          {i > 0 && i < 4 && <div style={box(602, 1180 + i * 16.7, 3, 1, "#fff")} />}
          {i > 0 && i < 4 && <div style={box(612, 1180 + i * 16.7, 3, 1, "#fff")} />}
          <T x={621.5} y={1180 + i * 16.7} s={13.7}>{label}</T>
        </React.Fragment>
      ))}
    </div>
  );
}
